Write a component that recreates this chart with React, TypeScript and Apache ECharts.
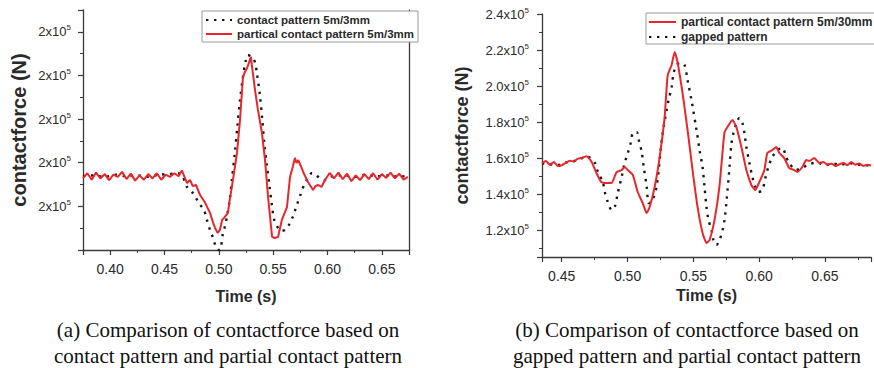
import React, { useEffect, useRef } from 'react';
import * as echarts from 'echarts';

// ---------- (a) contact pattern vs partial contact pattern (force in 10^5 N) ----------
const timeA_partial = [0.375,0.379,0.383,0.387,0.391,0.395,0.399,0.403,0.407,0.411,0.415,0.419,0.423,0.427,0.431,0.435,0.439,0.443,0.447,0.451,0.455,0.459,0.463,0.466,
  0.4707,0.4735,0.476,0.479,0.4827,0.487,0.4919,0.4945,0.4965,0.499,0.501,0.503,0.5048,0.5084,0.510,0.513,0.5167,0.5195,0.5222,0.524,0.526,0.528,0.5295,0.5305,0.5333,0.536,0.5397,0.5425,0.5453,0.549,0.5515,0.5545,0.558,0.5627,0.5655,0.568,0.570,0.5715,0.573,0.5755,0.578,0.582,0.5867,0.589,0.591,0.5945,0.5977,0.602,
  0.606,0.610,0.614,0.618,0.622,0.626,0.630,0.634,0.638,0.642,0.646,0.650,0.654,0.658,0.662,0.666,0.670,0.674];
const forceA_partial = [1.730,1.752,1.722,1.755,1.728,1.748,1.720,1.745,1.735,1.758,1.725,1.750,1.718,1.742,1.722,1.748,1.728,1.752,1.722,1.745,1.735,1.752,1.738,1.765,
  1.707,1.721,1.693,1.698,1.652,1.620,1.570,1.528,1.501,1.478,1.492,1.538,1.547,1.570,1.629,1.721,1.845,1.996,2.193,2.216,2.234,2.262,2.285,2.243,2.133,2.042,1.936,1.812,1.643,1.460,1.455,1.460,1.538,1.597,1.735,1.780,1.822,1.799,1.812,1.785,1.753,1.712,1.675,1.693,1.698,1.689,1.721,1.753,
  1.728,1.755,1.725,1.750,1.715,1.742,1.720,1.748,1.725,1.752,1.722,1.748,1.730,1.755,1.728,1.750,1.722,1.735];

const timeA_contact = [0.375,0.385,0.395,0.405,0.415,0.425,0.435,0.445,0.455,0.462,
  0.466,0.4707,0.4754,0.480,0.483,0.4864,0.489,0.4919,0.4947,0.497,
  0.4993,0.5015,0.5038,0.506,0.508,0.510,0.512,0.515,0.517,0.5195,
  0.5222,0.5245,0.5267,0.529,0.5313,0.5335,0.535,0.5378,0.540,0.542,
  0.5442,0.5465,0.5488,0.551,0.5545,0.5575,0.561,0.5645,0.568,0.5712,
  0.575,0.5785,0.582,0.5858,0.589,0.593,0.597,0.601,0.605,0.615,
  0.625,0.635,0.645,0.655,0.665,0.675];
const forceA_contact = [1.738,1.742,1.735,1.745,1.738,1.742,1.735,1.745,1.748,1.752,
  1.744,1.689,1.666,1.629,1.606,1.583,1.538,1.492,1.455,1.418,
  1.400,1.405,1.478,1.515,1.570,1.629,1.721,1.858,1.964,2.088,
  2.193,2.262,2.294,2.289,2.280,2.257,2.211,2.110,1.996,1.881,
  1.790,1.698,1.606,1.538,1.501,1.487,1.492,1.515,1.551,1.597,
  1.652,1.698,1.730,1.753,1.744,1.730,1.721,1.725,1.739,1.742,
  1.735,1.745,1.738,1.742,1.736,1.740];

// ---------- (b) gapped pattern vs partial contact pattern (force in 10^5 N) ----------
const timeB_partial = [0.435,0.438,0.441,0.444,0.447,0.450,0.453,0.456,0.459,0.462,0.465,
  0.4689,0.4727,0.4764,0.480,0.484,0.488,0.4917,0.4955,0.4978,
  0.5002,0.504,0.5077,0.5115,0.5145,0.5168,0.5206,0.5244,0.5282,0.5305,
  0.5335,0.5358,0.5381,0.5418,0.5456,0.5494,0.5532,0.557,0.560,0.5623,
  0.5661,0.5698,0.5736,0.5759,0.5797,0.5827,0.5865,0.5903,0.5941,0.5971,
  0.6002,0.604,0.6062,0.610,0.613,0.6153,0.619,0.6229,0.6267,0.629,
  0.6328,0.6358,0.6381,0.6419,0.6457,
  0.649,0.652,0.655,0.658,0.661,0.664,0.667,0.670,0.673,0.676,0.679,0.682,0.685];
const forceB_partial = [1.572,1.583,1.562,1.578,1.555,1.560,1.572,1.585,1.580,1.595,1.600,
  1.610,1.578,1.516,1.467,1.461,1.462,1.522,1.533,1.550,
  1.533,1.506,1.411,1.350,1.294,1.328,1.439,1.605,1.828,2.061,
  2.117,2.189,2.128,1.961,1.756,1.533,1.328,1.183,1.128,1.144,
  1.256,1.439,1.739,1.772,1.811,1.772,1.661,1.533,1.450,1.422,
  1.467,1.533,1.628,1.644,1.661,1.628,1.600,1.544,1.533,1.522,
  1.550,1.589,1.583,1.600,1.572,
  1.578,1.562,1.570,1.555,1.565,1.572,1.560,1.578,1.563,1.570,1.556,1.562,1.558];

const timeB_gapped = [0.435,0.441,0.447,0.453,0.459,0.465,0.469,0.4752,0.4775,0.4812,
  0.4827,0.485,0.488,0.4903,0.4926,0.4955,0.4978,0.5002,0.5024,0.504,
  0.507,0.5085,0.5108,0.5123,0.5146,0.5161,0.5183,0.522,0.526,0.5274,
  0.5297,0.5312,0.5335,0.535,0.5373,0.5403,0.5433,0.5456,0.5486,0.5524,
  0.5547,0.557,0.5585,0.560,0.5615,0.5638,0.5653,0.5676,0.5699,0.5722,
  0.5737,0.5753,0.5775,0.579,0.5805,0.5828,0.585,0.5873,0.5888,0.5903,
  0.5926,0.5949,0.5971,0.5994,0.6024,0.6047,0.607,0.610,0.6138,0.6176,
  0.6206,0.6229,0.6282,0.632,0.638,0.644,0.650,0.656,0.662,0.668,
  0.674,0.680,0.685];
const forceB_gapped = [1.570,1.565,1.560,1.575,1.582,1.598,1.610,1.572,1.522,1.467,
  1.411,1.356,1.311,1.328,1.406,1.494,1.572,1.628,1.683,1.739,
  1.744,1.700,1.633,1.550,1.439,1.350,1.356,1.439,1.700,1.772,
  1.867,1.922,1.994,2.072,2.117,2.128,2.117,2.033,1.922,1.756,
  1.644,1.550,1.439,1.328,1.256,1.200,1.144,1.117,1.144,1.200,
  1.256,1.367,1.550,1.683,1.739,1.794,1.822,1.794,1.739,1.661,
  1.572,1.494,1.439,1.411,1.422,1.489,1.550,1.605,1.644,1.656,
  1.605,1.572,1.533,1.544,1.565,1.575,1.560,1.570,1.562,1.572,
  1.565,1.560,1.558];

const seriesNamesA = ['contact pattern 5m/3mm', 'partical contact pattern 5m/3mm'];
const seriesNamesB = ['partical contact pattern 5m/30mm', 'gapped pattern'];
const captionA = ['(a) Comparison of contactforce based on', 'contact pattern and partial contact pattern'];
const captionB = ['(b) Comparison of contactforce based on', 'gapped pattern and partial contact pattern'];
const xTitle = 'Time (s)';
const yTitle = 'contactforce (N)';

const RED = '#e8262c';
const DOT = '#151515';
const AXIS = '#3a3a3a';
const TXT = '#2a2a2a';
const SANS = 'Liberation Sans, Arial, sans-serif';
const SERIF = 'Liberation Serif, Times New Roman, serif';

const zip = (t: number[], v: number[]) => {
  const n = Math.min(t.length, v.length);
  const out: number[][] = [];
  for (let i = 0; i < n; i++) out.push([t[i], v[i]]);
  return out;
};
const isMult = (v: number, step: number) => Math.abs(v / step - Math.round(v / step)) < 1e-6;

const supRich = {
  m: { fontSize: 13, color: TXT, fontFamily: SANS, lineHeight: 16 },
  s: { fontSize: 8, color: TXT, fontFamily: SANS, verticalAlign: 'top', lineHeight: 16, padding: [0, 0, 6, 0] },
};

const axisCommon = (lenMajor: number) => ({
  axisLine: { show: true, onZero: false, lineStyle: { color: AXIS, width: 1.3 } },
  axisTick: { show: true, inside: false, length: lenMajor, lineStyle: { color: AXIS, width: 1.2 } },
  minorTick: { show: true, splitNumber: 2, length: 3, lineStyle: { color: AXIS, width: 1 } },
  splitLine: { show: false },
  minorSplitLine: { show: false },
});

const xLabel = (margin: number) => ({
  fontSize: 14, color: TXT, fontFamily: SANS, margin,
  formatter: (v: number) => (isMult(v, 0.05) ? v.toFixed(2) : ''),
});

const legendBase = {
  orient: 'vertical',
  borderColor: '#9a9a9a', borderWidth: 1, backgroundColor: '#ffffff', borderRadius: 0,
  itemStyle: { opacity: 0, borderWidth: 0 },
};

const option: any = {
  animation: false,
  backgroundColor: '#ffffff',
  grid: [
    { left: 83, top: 10, width: 326, height: 240 },
    { left: 542, top: 14, width: 331, height: 243 },
  ],
  xAxis: [
    {
      gridIndex: 0, type: 'value', min: 0.375, max: 0.675, splitNumber: 6,
      ...axisCommon(5), axisLabel: xLabel(12),
      name: xTitle, nameLocation: 'middle', nameGap: 38,
      nameTextStyle: { fontSize: 16, fontWeight: 'bold', color: TXT, fontFamily: SANS },
    },
    {
      gridIndex: 1, type: 'value', min: 0.435, max: 0.685, splitNumber: 5,
      ...axisCommon(5), axisLabel: xLabel(12),
      name: xTitle, nameLocation: 'middle', nameGap: 29,
      nameTextStyle: { fontSize: 16, fontWeight: 'bold', color: TXT, fontFamily: SANS },
    },
  ],
  yAxis: [
    {
      gridIndex: 0, type: 'value', min: 1.4, max: 2.5, splitNumber: 5,
      ...axisCommon(5),
      axisLabel: {
        margin: 12, rich: supRich,
        formatter: (v: number) => (v > 1.5 && v < 2.45 && isMult(v, 0.2) ? '{m|' + Math.round(v) + 'x10}{s|5}' : ''),
      },
      name: yTitle, nameLocation: 'middle', nameGap: 54, nameRotate: 90,
      nameTextStyle: { fontSize: 20, fontWeight: 'bold', color: TXT, fontFamily: SANS },
    },
    {
      gridIndex: 0, type: 'value', min: 1.4, max: 2.5, position: 'right',
      axisLine: { show: true, onZero: false, lineStyle: { color: AXIS, width: 1.3 } },
      axisTick: { show: false }, axisLabel: { show: false }, splitLine: { show: false },
    },
    {
      gridIndex: 1, type: 'value', min: 1.05, max: 2.4, splitNumber: 7,
      ...axisCommon(5),
      axisLabel: {
        margin: 13, rich: supRich,
        formatter: (v: number) => (v > 1.15 && isMult(v, 0.2) ? '{m|' + v.toFixed(1) + 'x10}{s|5}' : ''),
      },
      name: yTitle, nameLocation: 'middle', nameGap: 71, nameRotate: 90,
      nameTextStyle: { fontSize: 18, fontWeight: 'bold', color: TXT, fontFamily: SANS },
    },
  ],
  legend: [
    {
      ...legendBase, left: 202, top: 11, data: seriesNamesA,
      itemWidth: 26, itemHeight: 11, itemGap: 2, padding: [3, 4, 2, 3],
      textStyle: { fontSize: 11.5, fontWeight: 'bold', color: TXT, fontFamily: SANS },
    },
    {
      ...legendBase, left: 646, top: 13, data: seriesNamesB,
      itemWidth: 27, itemHeight: 12, itemGap: 3, padding: [3, 4, 1, 2],
      textStyle: { fontSize: 12, fontWeight: 'bold', color: TXT, fontFamily: SANS },
    },
  ],
  series: [
    {
      name: seriesNamesA[0], type: 'line', xAxisIndex: 0, yAxisIndex: 0,
      data: zip(timeA_contact, forceA_contact), symbol: 'none', showSymbol: false, smooth: 0.3,
      lineStyle: { color: DOT, width: 2.4, type: [2.4, 5.6] }, itemStyle: { color: DOT }, z: 2,
    },
    {
      name: seriesNamesA[1], type: 'line', xAxisIndex: 0, yAxisIndex: 0,
      data: zip(timeA_partial, forceA_partial), symbol: 'none', showSymbol: false,
      lineStyle: { color: RED, width: 2 }, itemStyle: { color: RED }, z: 3,
    },
    {
      name: seriesNamesB[0], type: 'line', xAxisIndex: 1, yAxisIndex: 2,
      data: zip(timeB_partial, forceB_partial), symbol: 'none', showSymbol: false, smooth: 0.15,
      lineStyle: { color: RED, width: 2 }, itemStyle: { color: RED }, z: 3,
    },
    {
      name: seriesNamesB[1], type: 'line', xAxisIndex: 1, yAxisIndex: 2,
      data: zip(timeB_gapped, forceB_gapped), symbol: 'none', showSymbol: false, smooth: 0.3,
      lineStyle: { color: DOT, width: 2.4, type: [2.4, 5.6] }, itemStyle: { color: DOT }, z: 2,
    },
  ],
  graphic: [
    ...captionA.map((t, i) => ({
      type: 'text', x: 228, y: 330 + i * 26,
      style: { text: t, fontSize: 21, fontFamily: SERIF, fill: '#111', align: 'center', verticalAlign: 'middle' },
    })),
    ...captionB.map((t, i) => ({
      type: 'text', x: 687, y: 330 + i * 26,
      style: { text: t, fontSize: 21, fontFamily: SERIF, fill: '#111', align: 'center', verticalAlign: 'middle' },
    })),
  ],
};

export default function App() {
  const ref = useRef<HTMLDivElement>(null);
  useEffect(() => {
    if (!ref.current) return;
    const chart = echarts.init(ref.current, null, { renderer: 'svg' });
    chart.setOption(option);
    return () => chart.dispose();
  }, []);
  return (
    <div
      ref={ref}
      style={{ position: 'fixed', left: 0, top: 0, width: 874, height: 368, background: '#fff' }}
    />
  );
}
